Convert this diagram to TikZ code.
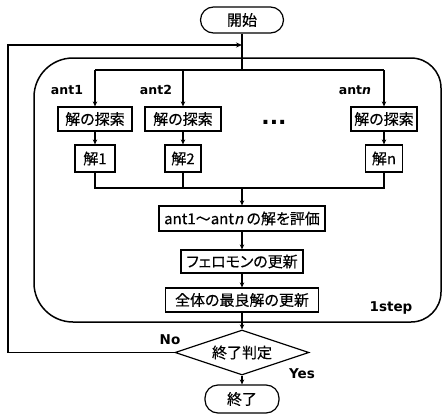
\documentclass[tikz,border=0pt]{standalone}
\usepackage{fontspec}
\setmainfont{Noto Sans CJK JP}[RawFeature=+palt,FakeBold=0.3]
\newfontfamily\labfont{DejaVu Sans}
\newfontfamily\jpslant{Noto Sans CJK JP}[FakeSlant=0.25,FakeBold=0.3]
\usetikzlibrary{arrows.meta,shapes.geometric}
\begin{document}
\begin{tikzpicture}[x=1pt,y=-1pt,
  box/.style={draw,line width=1.2pt,inner sep=0pt,font=\fontsize{15}{17}\selectfont},
  term/.style={box,rounded corners=13pt},
  decis/.style={box,diamond,aspect=3},
  lab/.style={font=\labfont\bfseries\fontsize{12.5}{14}\selectfont,inner sep=0pt},
  biglab/.style={lab,font=\labfont\bfseries\fontsize{13.5}{15}\selectfont},
  conn/.style={line width=1.2pt},
  arr/.style={conn,-{Stealth[length=5pt,width=4.5pt]}},
  loopline/.style={line width=1.6pt,-{Stealth[length=6pt,width=5pt]}},
  frame/.style={line width=1.5pt}
]
\useasboundingbox (0,0) rectangle (442,415);

% 1step frame
\draw[frame] (34,190) [rounded corners=39pt] -- (34,58) -- (240,58)
  [rounded corners=30pt] -- (441,58) -- (441,322) -- (240,322)
  [rounded corners=39pt] -- (34,322) -- cycle;

% terminals
\node[term,minimum width=83pt,minimum height=26pt] (start) at (242,20) {開始};
\node[term,minimum width=74pt,minimum height=28pt] (end) at (242,399) {終了};

% ant boxes
\node[box,minimum width=74pt,minimum height=24pt] (s1) at (95,119) {解の探索};
\node[box,minimum width=76pt,minimum height=24pt] (s2) at (183,119) {解の探索};
\node[box,minimum width=66pt,minimum height=24pt] (sn) at (384,119) {解の探索};
\node[box,minimum width=40pt,minimum height=27pt] (a1) at (95,158.5) {解1};
\node[box,minimum width=36pt,minimum height=27pt] (a2) at (183,158.5) {解2};
\node[box,minimum width=37pt,minimum height=27pt] (an) at (384,158.5) {解n};

\node[lab] (l1) at (67,90) {ant1};
\node[lab] (l2) at (156,90) {ant2};
\node[lab] (ln) at (355,90) {ant\textit{n}};
\node[inner sep=0pt,font=\labfont\bfseries\fontsize{22}{24}\selectfont] (dots) at (274,122) {...};

% main chain
\node[box,minimum width=166pt,minimum height=25pt] (ev) at (242,218.5) {ant1～ant{\jpslant n} の解を評価};
\node[box,minimum width=122pt,minimum height=23pt] (ph) at (242,261.5) {フェロモンの更新};
\node[box,minimum width=153pt,minimum height=24pt] (gl) at (242,300) {全体の最良解の更新};
\node[decis,minimum width=134pt,minimum height=45pt] (dec) at (242,352.5) {終了判定};

\node[biglab] (l1s) at (391,308) {1step};
\node[biglab] (lno) at (170,340) {No};
\node[biglab] (lyes) at (302,374) {Yes};

% coordinates
\coordinate (top) at (242,70);
\coordinate (b1) at (95,70);
\coordinate (b2) at (183,70);
\coordinate (bn) at (384,70);
\coordinate (m1) at (95,188);
\coordinate (m2) at (183,188);
\coordinate (mn) at (384,188);
\coordinate (mc) at (242,188);
\coordinate (lb) at (8,352.5);
\coordinate (lt) at (8,45);
\coordinate (la) at (242,45);

% connectors
\draw[conn] (start.south) -- (top);
\draw[conn] (b1) -- (bn);
\draw[arr] (b1) -- (s1.north);
\draw[arr] (b2) -- (s2.north);
\draw[arr] (bn) -- (sn.north);
\draw[arr] (s1) -- (a1);
\draw[arr] (s2) -- (a2);
\draw[arr] (sn) -- (an);
\draw[conn] (a1.south) -- (m1) -- (mn) -- (an.south);
\draw[conn] (a2.south) -- (m2);
\draw[arr] (mc) -- (ev.north);
\draw[arr] (ev) -- (ph);
\draw[arr] (ph) -- (gl);
\draw[arr] (gl) -- (dec.north);
\draw[arr] (dec) -- (end);
\draw[loopline] (dec.west) -- (lb) -- (lt) -- (la);
\end{tikzpicture}
\end{document}
